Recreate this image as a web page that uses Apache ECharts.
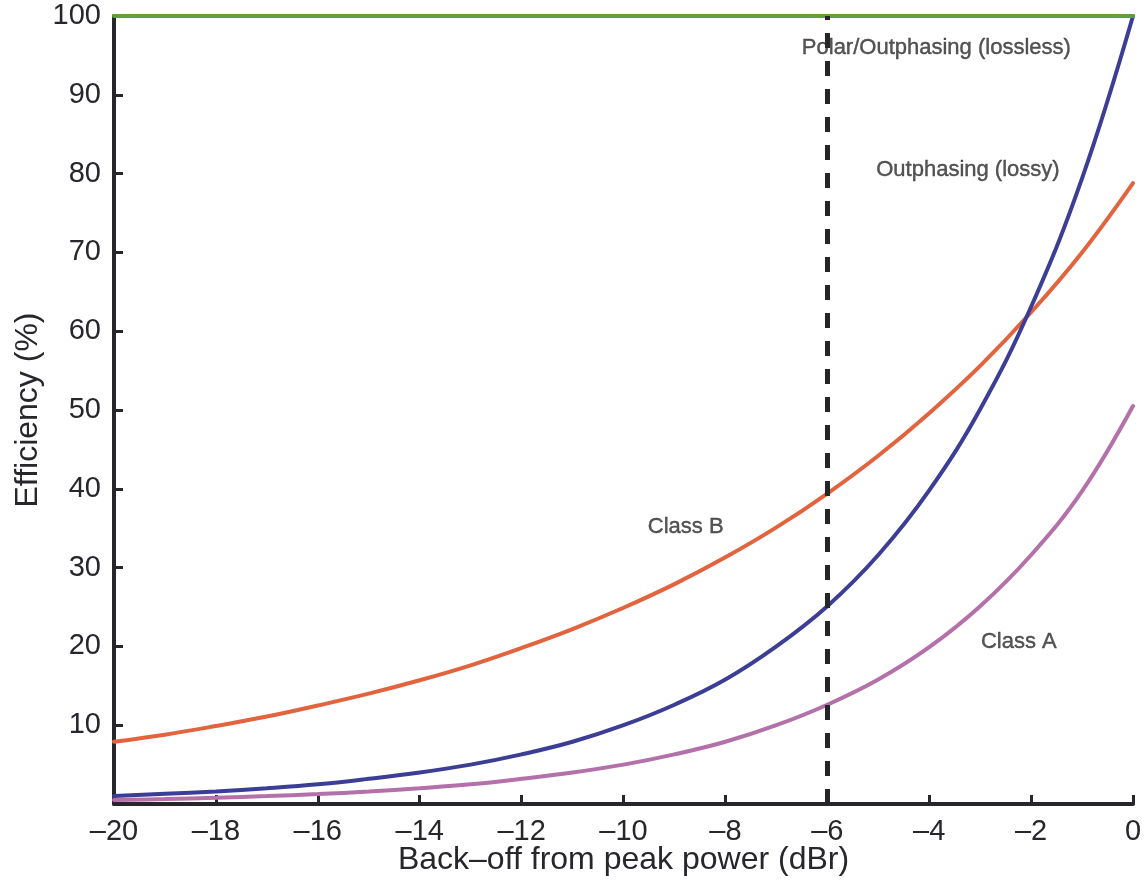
<!DOCTYPE html>
<html>
<head>
<meta charset="utf-8">
<title>Efficiency vs back-off</title>
<script src="https://cdn.jsdelivr.net/npm/echarts@6/dist/echarts.min.js"></script>
<style>
  html, body { margin: 0; padding: 0; background: #ffffff; }
  #chart { width: 1145px; height: 880px; }
</style>
</head>
<body>
<div id="chart"></div>
<script>
// Back-off from peak power, dBr
const backoff = [-20, -19, -18, -17, -16, -15, -14, -13, -12, -11, -10,
                 -9, -8, -7, -6, -5, -4, -3, -2, -1, 0];

// Efficiency curves (%)
const polarLossless = [100, 100, 100, 100, 100, 100, 100, 100, 100, 100, 100,
                       100, 100, 100, 100, 100, 100, 100, 100, 100, 100];
const outphasingLossy = [1.0, 1.3, 1.6, 2.0, 2.5, 3.2, 4.0, 5.0, 6.3, 7.9, 10.0,
                         12.6, 15.8, 20.0, 25.1, 31.6, 39.8, 50.1, 63.1, 79.4, 100];
const classB = [7.9, 8.8, 9.9, 11.1, 12.5, 14.0, 15.7, 17.6, 19.8, 22.2, 24.9,
                27.9, 31.3, 35.1, 39.4, 44.2, 49.6, 55.6, 62.4, 70.0, 78.8];
const classA = [0.5, 0.63, 0.79, 1.0, 1.26, 1.58, 2.0, 2.5, 3.2, 4.0, 5.0,
                6.3, 7.9, 10.0, 12.6, 15.8, 19.9, 25.1, 31.6, 39.7, 50.5];

// Reference back-off marker (dBr)
const markerBackoff = -6;

// Curve annotations: text and anchor [dBr, %]
const noteTexts = ['Polar/Outphasing (lossless)', 'Outphasing (lossy)', 'Class B', 'Class A'];
const noteAnchors = [[-3.86, 96.0], [-3.24, 80.5], [-8.78, 35.2], [-2.24, 20.6]];

const FONT = '"Liberation Sans", Arial, Helvetica, sans-serif';
const INK = '#26262b';

function pairs(ys) { return backoff.map((x, i) => [x, ys[i]]); }

function curve(name, ys, color) {
  return {
    name: name,
    type: 'line',
    data: pairs(ys),
    showSymbol: false,
    smooth: 0.4,
    clip: false,
    lineStyle: { color: color, width: 4, cap: 'round' },
    emphasis: { disabled: true },
    z: 3
  };
}

const chart = echarts.init(document.getElementById('chart'), null, { renderer: 'canvas' });

chart.setOption({
  backgroundColor: '#ffffff',
  animation: false,
  grid: { left: 114, right: 12, top: 16, bottom: 76, containLabel: false, outerBoundsMode: 'none' },
  xAxis: {
    type: 'value',
    min: -20, max: 0, interval: 2,
    name: 'Back\u2013off from peak power (dBr)',
    nameLocation: 'middle',
    nameGap: 40,
    nameMoveOverlap: false,
    nameTextStyle: { fontFamily: FONT, fontSize: 32, color: INK },
    axisLine: { show: true, onZero: false, lineStyle: { color: INK, width: 4 } },
    axisTick: { show: true, inside: true, length: 9, lineStyle: { color: INK, width: 3 } },
    axisLabel: {
      fontFamily: FONT, fontSize: 29, color: INK, margin: 13,
      formatter: v => (v < 0 ? '\u2013' + Math.abs(v) : String(v))
    },
    splitLine: { show: false }
  },
  yAxis: {
    type: 'value',
    min: 0, max: 100, interval: 10,
    name: 'Efficiency (%)',
    nameLocation: 'middle',
    nameGap: 70,
    nameRotate: 90,
    nameMoveOverlap: false,
    nameTextStyle: { fontFamily: FONT, fontSize: 32, color: INK },
    axisLine: { show: true, onZero: false, lineStyle: { color: INK, width: 4 } },
    axisTick: { show: true, inside: true, length: 9, lineStyle: { color: INK, width: 3 } },
    axisLabel: {
      fontFamily: FONT, fontSize: 29, color: INK, margin: 13,
      formatter: v => (v === 0 ? '' : String(v))
    },
    splitLine: { show: false }
  },
  series: [
    curve('Class A', classA, '#b370a9'),
    curve('Class B', classB, '#e2643f'),
    curve('Outphasing (lossy)', outphasingLossy, '#3c3e96'),
    Object.assign(curve('Polar/Outphasing (lossless)', polarLossless, '#639f3b'), {
      markLine: {
        silent: true,
        symbol: ['none', 'none'],
        label: { show: false },
        lineStyle: { color: '#262626', width: 5, type: [15, 13] },
        data: [{ xAxis: markerBackoff }]
      }
    }),
    {
      name: 'notes',
      type: 'scatter',
      symbolSize: 0,
      silent: true,
      z: 5,
      data: noteTexts.map((t, i) => ({ name: t, value: noteAnchors[i] })),
      label: {
        show: true,
        position: 'inside',
        formatter: '{b}',
        fontFamily: FONT,
        fontSize: 22,
        color: '#2b2b2b',
        textBorderColor: '#2b2b2b',
        textBorderWidth: 0.4
      }
    }
  ]
});
</script>
</body>
</html>
